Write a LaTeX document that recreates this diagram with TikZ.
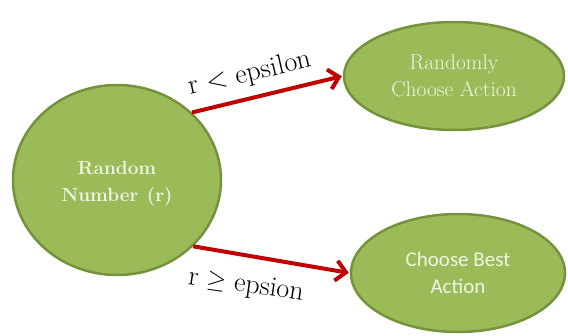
\documentclass[tikz,border=0pt]{standalone}
\usepackage{fontspec}
\newfontfamily\calfont{Carlito}
\usetikzlibrary{shapes.geometric,arrows.meta}
\definecolor{leaf}{RGB}{155,187,89}
\definecolor{leafedge}{RGB}{118,146,60}
\definecolor{leaftext}{RGB}{240,244,226}
\definecolor{arrowred}{RGB}{192,0,0}
\tikzset{
  bubble/.style={ellipse, draw=leafedge, line width=2.5pt, fill=leaf,
    text=leaftext, align=center, inner sep=0pt},
  branch/.style={arrowred, line width=4pt, shorten >=1pt,
    -{Straight Barb[length=10pt,width=20pt,line width=4pt]}},
  cond/.style={font=\rmfamily\fontsize{28}{30}\selectfont, text=black}
}
\begin{document}
\begin{tikzpicture}[x=1pt,y=-1pt]
  \useasboundingbox (0,0) rectangle (568,335);
  \node[bubble, minimum width=208pt, minimum height=190pt] (rnd) at (117,180) {};
  \node[text=leaftext, align=center,
        font=\rmfamily\bfseries\fontsize{19}{27}\selectfont]
        (rndlabel) at ([yshift=-4pt]rnd.center) {Random\\Number\hspace{0.45em}(r)};
  \node[bubble, minimum width=220pt, minimum height=108pt,
        font=\rmfamily\fontsize{21.5}{27}\selectfont] (rand) at (454,76)
        {Randomly\\Choose Action};
  \node[bubble, minimum width=214pt, minimum height=118pt,
        font=\calfont\fontsize{21}{27}\selectfont] (best) at (458,273)
        {Choose Best\\Action};
  \draw[branch] (rnd.42) -- (rand.west);
  \draw[branch] (rnd.-41) -- (best.west);
  \node[cond, rotate=13] (lt) at (250,74) {r < epsilon};
  \node[cond, rotate=-8] (ge) at (246,286) {r \(\geq\) epsion};
\end{tikzpicture}
\end{document}
